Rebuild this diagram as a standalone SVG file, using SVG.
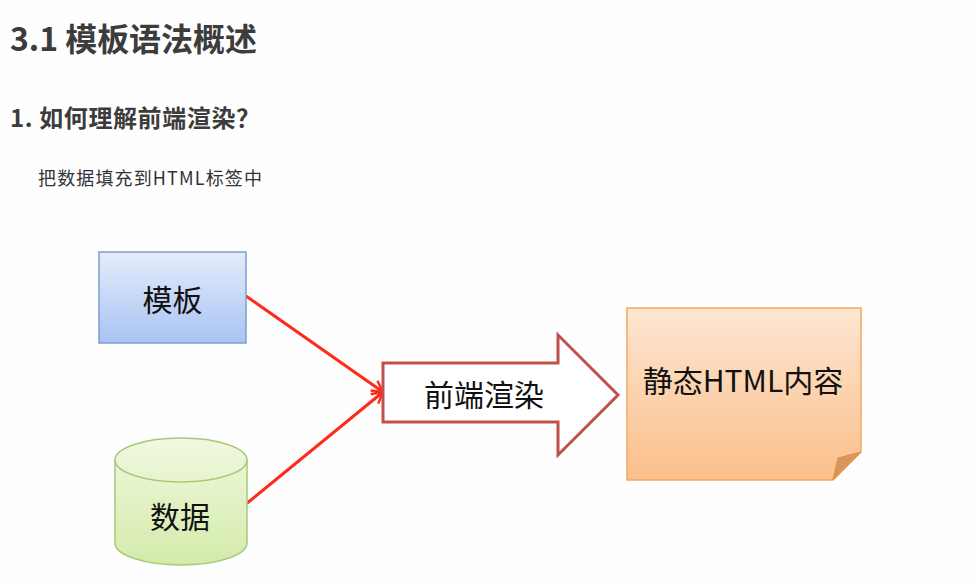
<svg xmlns="http://www.w3.org/2000/svg" width="974" height="583" viewBox="0 0 974 583">
<defs>
<linearGradient id="gBlue" x1="0" y1="0" x2="0" y2="1"><stop offset="0" stop-color="#e4ecfb"/><stop offset="1" stop-color="#a9c3f3"/></linearGradient>
<linearGradient id="gGreen" x1="0" y1="0" x2="0" y2="1"><stop offset="0" stop-color="#f1f8e0"/><stop offset="1" stop-color="#d3ebaa"/></linearGradient>
<linearGradient id="gOrange" x1="0" y1="0" x2="0" y2="1"><stop offset="0" stop-color="#fde6d2"/><stop offset="1" stop-color="#fbbf8a"/></linearGradient>
<marker id="arr" viewBox="0 0 14 14" refX="12" refY="7" markerWidth="14" markerHeight="14" markerUnits="userSpaceOnUse" orient="auto">
<path d="M1,1 L12,7 L1,13" fill="none" stroke="#ff2a1a" stroke-width="2.5"/>
</marker>
</defs>
<style>
.h{font-family:"Noto Sans CJK SC","Noto Sans",sans-serif;fill:#3c3c3c;font-weight:bold}
.t{font-family:"Noto Sans CJK SC","Noto Sans",sans-serif;fill:#111;text-anchor:middle}
.conn{stroke:#ff2a1a;stroke-width:3;fill:none;marker-end:url(#arr)}
</style>
<rect width="974" height="583" fill="#fefefe"/>
<text class="h" x="10" y="51" font-size="32" textLength="247" lengthAdjust="spacing">3.1 模板语法概述</text>
<text class="h" x="10" y="127" font-size="24" textLength="250" lengthAdjust="spacing">1. 如何理解前端渲染？</text>
<text x="38" y="185" font-size="18" font-family="&quot;Noto Sans CJK SC&quot;,&quot;Noto Sans&quot;,sans-serif" fill="#333" textLength="224" lengthAdjust="spacing">把数据填充到HTML标签中</text>
<g id="connectors">
<line class="conn" x1="246" y1="296" x2="383" y2="392"/>
<line class="conn" x1="246" y1="504" x2="383" y2="392"/>
</g>
<g id="template">
<rect x="99" y="252" width="147" height="91" fill="url(#gBlue)" stroke="#7f9dd0" stroke-width="1.5"/>
<text class="t" x="172.5" y="311" font-size="30">模板</text>
</g>
<g id="data">
<path d="M115,460 L115,543 A66,22 0 0 0 247,543 L247,460 A66,22 0 0 0 115,460 Z" fill="url(#gGreen)" stroke="#a8c97a" stroke-width="1.5"/>
<path d="M115,460 A66,22 0 0 0 247,460" fill="none" stroke="#a8c97a" stroke-width="1.5"/>
<text class="t" x="180" y="528" font-size="30">数据</text>
</g>
<g id="render">
<path d="M383,363 L558,363 L558,335 L618,395 L558,455 L558,422 L383,422 Z" fill="#fff" stroke="#c0504d" stroke-width="3" stroke-linejoin="miter"/>
<text class="t" x="484" y="406" font-size="30">前端渲染</text>
</g>
<g id="output">
<path d="M627,308 L861,308 L861,452 L833,480 L627,480 Z" fill="url(#gOrange)" stroke="#f5a65e" stroke-width="1.5"/>
<path d="M861,452 L838,458 L833,480 Z" fill="#d9965c" stroke="#e88a40" stroke-width="1"/>
<text class="t" x="743" y="392" font-size="30">静态HTML内容</text>
</g>
</svg>
